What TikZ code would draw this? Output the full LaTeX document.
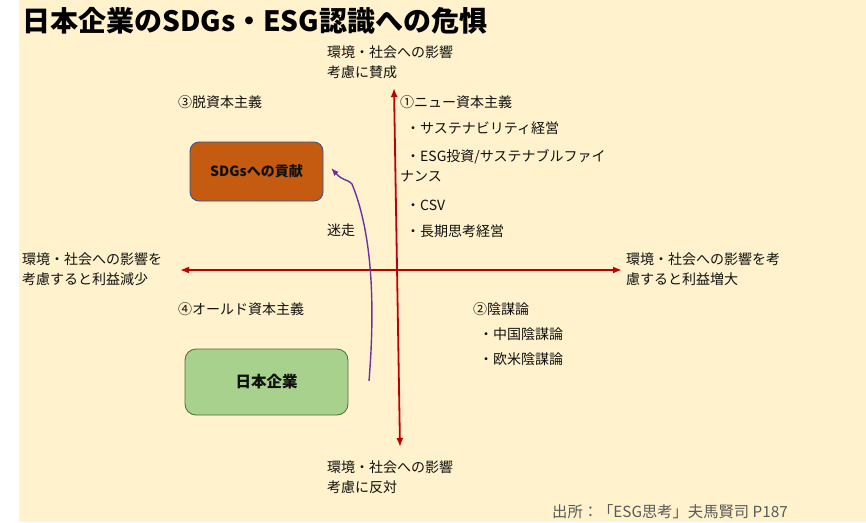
\documentclass[tikz,border=0pt]{standalone}
\usepackage{fontspec}
\setmainfont{Noto Sans CJK JP}
\usetikzlibrary{arrows.meta}
\definecolor{cream}{HTML}{FFF2CC}
\definecolor{axisred}{HTML}{C00000}
\definecolor{sdgfill}{HTML}{C55A11}
\definecolor{sdgline}{HTML}{2F5597}
\definecolor{jpfill}{HTML}{A9D18E}
\definecolor{jpline}{HTML}{4E6B30}
\definecolor{wander}{HTML}{7030A0}
\definecolor{txt}{HTML}{111111}
\definecolor{srcgray}{HTML}{595959}
\tikzset{
  lbl/.style={anchor=west, inner sep=0pt, align=left, text=txt, font=\fontsize{14}{19.5}\selectfont},
  axis/.style={draw=axisred, line width=1.8pt, {Latex[length=9pt,width=7pt]}-{Latex[length=9pt,width=7pt]}},
  boxsdg/.style={draw=sdgline, fill=sdgfill, rounded corners=9pt, line width=0.8pt, minimum width=133pt, minimum height=59pt, inner sep=0pt, font=\bfseries\fontsize{14}{16}\selectfont, text=txt},
  boxjp/.style={draw=jpline, fill=jpfill, rounded corners=11pt, line width=0.8pt, minimum width=163pt, minimum height=66pt, inner sep=0pt, font=\bfseries\fontsize{15.5}{17}\selectfont, text=txt},
}
\begin{document}
\begin{tikzpicture}[x=1pt,y=-1pt]
\useasboundingbox (0,0) rectangle (866,522);
\fill[white] (0,0) rectangle (866,522);
\fill[cream] (19,0) rectangle (866,522);

% title
\node[anchor=west, inner sep=0pt, font=\bfseries\fontsize{28}{30}\selectfont, text=black] (title) at (22,21) {日本企業のSDGs・ESG認識への危惧};

% axes
\coordinate (vt) at (394,88);
\coordinate (vb) at (400,447);
\coordinate (hl) at (180,270);
\coordinate (hr) at (622,270);
\draw[axis] (vb) -- (vt);
\draw[axis] (hl) -- (hr);

% axis labels
\node[lbl] (top) at (327,62) {環境・社会への影響\\考慮に賛成};
\node[lbl] (bot) at (327,477) {環境・社会への影響\\考慮に反対};
\node[lbl] (left) at (22,269) {環境・社会への影響を\\考慮すると利益減少};
\node[lbl] (right) at (626,269) {環境・社会への影響を考\\慮すると利益増大};

% quadrant texts
\node[lbl] (q3) at (178,102) {③脱資本主義};
\node[lbl] (q1) at (400,102) {①ニュー資本主義};
\node[lbl] (q1a) at (406,128) {・サステナビリティ経営};
\node[lbl] (q1b) at (400,166) {\hspace{6pt}・ESG投資/サステナブルファイ\\ナンス};
\node[lbl] (q1c) at (406,205) {・CSV};
\node[lbl] (q1d) at (406,231) {・長期思考経営};
\node[lbl] (q4) at (178,309) {④オールド資本主義};
\node[lbl] (q2) at (473,309) {②陰謀論};
\node[lbl] (q2a) at (479,334) {・中国陰謀論};
\node[lbl] (q2b) at (479,359) {・欧米陰謀論};
\node[lbl] (mei) at (327,230) {迷走};

% boxes
\node[boxsdg] (sdg) at (256.5,171.5) {SDGsへの貢献};
\node[boxjp] (jp) at (266.5,382) {日本企業};

% wandering arrow
\coordinate (ws) at (369,381);
\coordinate (we) at (331,168);
\draw[draw=wander, line width=1.4pt, -{Latex[length=8pt,width=6pt]}]
  (ws) .. controls (374,320) and (375,240) .. (352,184)
       .. controls (346,178) and (344,182) .. (we);

% source
\node[anchor=west, inner sep=0pt, text=srcgray, font=\fontsize{15.3}{17}\selectfont] (src) at (552,512) {出所：「ESG思考」夫馬賢司 P187};
\end{tikzpicture}
\end{document}
